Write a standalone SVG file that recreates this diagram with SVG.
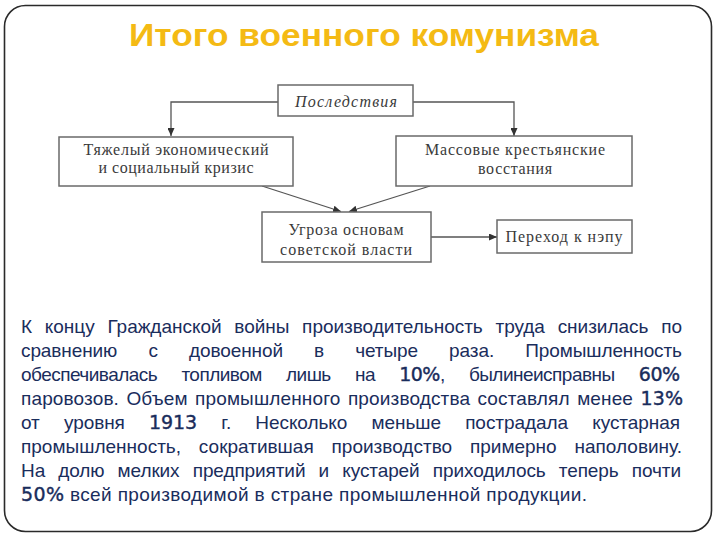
<svg xmlns="http://www.w3.org/2000/svg" width="720" height="540" viewBox="0 0 720 540">
<style>
.frame{fill:#fff;stroke:#2a2a2a;stroke-width:1.6}
.title{font-family:"Liberation Sans",Arial,sans-serif;font-weight:bold;font-size:32px;fill:#F4BA14}
.box{fill:#fff;stroke:#6a6a6a;stroke-width:1.5}
.lbl{font-family:"Liberation Serif","Times New Roman",serif;font-size:16px;fill:#3a3a3a;text-anchor:middle}
.it{font-style:italic}
.conn{fill:none;stroke:#555;stroke-width:1.3}
.body{font-family:"Liberation Sans",Arial,sans-serif;font-size:19px;fill:#1A2D5C}
.num{font-family:"DejaVu Sans",Verdana,sans-serif;font-size:19px;stroke:#1A2D5C;stroke-width:0.4}
</style>
<defs>
<marker id="arr" markerUnits="userSpaceOnUse" markerWidth="9" markerHeight="7" refX="8" refY="3.5" orient="auto">
<path d="M0,0 L8,3.5 L0,7 z" fill="#333"/>
</marker>
</defs>
<rect class="frame" x="4.5" y="5.5" width="707" height="526" rx="21" ry="21"/>
<text class="title" x="129" y="46" textLength="470" lengthAdjust="spacingAndGlyphs">Итого военного комунизма</text>

<g id="connectors">
<polyline class="conn" points="278,102 171,102 171,136" marker-end="url(#arr)"/>
<polyline class="conn" points="413,102 514,102 514,136" marker-end="url(#arr)"/>
<line class="conn" x1="262" y1="186" x2="341" y2="211.5" marker-end="url(#arr)"/>
<line class="conn" x1="430" y1="186" x2="349" y2="211.5" marker-end="url(#arr)"/>
<line class="conn" x1="431" y1="237" x2="497" y2="237" marker-end="url(#arr)"/>
</g>

<g id="n-posledstviya">
<rect class="box" x="278" y="85" width="135" height="31"/>
<text class="lbl it" x="346" y="107" textLength="102" lengthAdjust="spacing">Последствия</text>
</g>
<g id="n-krizis">
<rect class="box" x="59" y="137" width="234" height="49"/>
<text class="lbl" x="176" y="155" textLength="185" lengthAdjust="spacing">Тяжелый экономический</text>
<text class="lbl" x="176" y="173" textLength="155" lengthAdjust="spacing">и социальный кризис</text>
</g>
<g id="n-vosstaniya">
<rect class="box" x="396" y="136" width="236" height="50"/>
<text class="lbl" x="515" y="155" textLength="180" lengthAdjust="spacing">Массовые крестьянские</text>
<text class="lbl" x="515" y="174" textLength="74" lengthAdjust="spacing">восстания</text>
</g>
<g id="n-ugroza">
<rect class="box" x="262" y="212" width="169" height="50"/>
<text class="lbl" x="346" y="235" textLength="115" lengthAdjust="spacing">Угроза основам</text>
<text class="lbl" x="346" y="255" textLength="132" lengthAdjust="spacing">советской власти</text>
</g>
<g id="n-nep">
<rect class="box" x="497" y="220" width="135" height="33"/>
<text class="lbl" x="564" y="242" textLength="117" lengthAdjust="spacing">Переход к нэпу</text>
</g>

<g id="body-text" class="body">
<text x="21" y="333" word-spacing="7.5" textLength="661" lengthAdjust="spacing">К концу Гражданской войны производительность труда снизилась по</text>
<text x="21" y="357" word-spacing="26" textLength="661" lengthAdjust="spacing">сравнению с довоенной в четыре раза. Промышленность</text>
<text x="21" y="381" word-spacing="19.5" textLength="659" lengthAdjust="spacing">обеспечивалась топливом лишь на <tspan class="num">10%</tspan>, былинеисправны <tspan class="num">60%</tspan></text>
<text x="21" y="405" word-spacing="2" textLength="662" lengthAdjust="spacing">паровозов. Объем промышленного производства составлял менее <tspan class="num">13%</tspan></text>
<text x="21" y="429" word-spacing="19" textLength="659" lengthAdjust="spacing">от уровня <tspan class="num">1913</tspan> г. Несколько меньше пострадала кустарная</text>
<text x="21" y="453" word-spacing="12.5" textLength="661" lengthAdjust="spacing">промышленность, сократившая производство примерно наполовину.</text>
<text x="21" y="477" word-spacing="8" textLength="660" lengthAdjust="spacing">На долю мелких предприятий и кустарей приходилось теперь почти</text>
<text x="21" y="501" textLength="566" lengthAdjust="spacing"><tspan class="num">50%</tspan> всей производимой в стране промышленной продукции.</text>
</g>
</svg>
